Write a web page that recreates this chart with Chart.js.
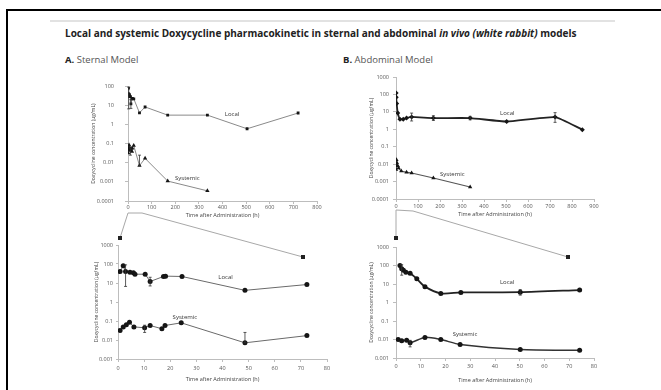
<!DOCTYPE html>
<html lang="en">
<head>
<meta charset="UTF-8">
<title>Doxycycline pharmacokinetics</title>
<script src="https://cdn.jsdelivr.net/npm/chart.js@4"></script>
<style>
  body { margin:0; width:661px; height:390px; background:#fff; position:relative; overflow:hidden; font-family:"Open Sans", sans-serif; }
  #frame { position:absolute; left:6px; top:9px; width:700px; height:400px; border-top:2px solid #000; border-left:2px solid #000; }
  #rule { position:absolute; left:50px; top:20px; width:565px; height:2px; background:#e2e2e2; }
  #title { position:absolute; left:65px; top:26px; font-size:10px; font-weight:700; color:#222; white-space:nowrap; }
  .panel { position:absolute; top:53px; font-size:9.5px; color:#555; white-space:nowrap; }
  .panel b { color:#222; }
  canvas { position:absolute; }
  svg { position:absolute; left:0; top:0; }
</style>
</head>
<body>
<div id="frame"></div>
<div id="rule"></div>
<div id="title">Local and systemic Doxycycline pharmacokinetic in sternal and abdominal <i>in vivo (white rabbit)</i> models</div>
<div class="panel" style="left:65px"><b>A.</b> Sternal Model</div>
<div class="panel" style="left:343px"><b>B.</b> Abdominal Model</div>

<svg width="661" height="390">
  <g stroke="#a8a8a8" stroke-width="1" fill="none">
    <polyline points="128,213 120,238"/>
    <polyline points="128,213 142,213 303,257"/>
    <polyline points="396,210 396,238"/>
    <polyline points="396,210 413,211 568,257"/>
  </g>
  <g fill="#222">
    <rect x="118" y="236" width="4" height="4"/>
    <rect x="301" y="255" width="4" height="4"/>
    <rect x="394" y="236" width="4" height="4"/>
    <rect x="566" y="255" width="4" height="4"/>
  </g>
</svg>

<canvas id="sternalTop" width="234" height="147" style="left:91px;top:72px"></canvas>
<canvas id="abdominalTop" width="233" height="149" style="left:369px;top:69px"></canvas>
<canvas id="sternalEarly" width="241" height="146" style="left:94px;top:237px"></canvas>
<canvas id="abdominalEarly" width="233" height="145" style="left:369px;top:239px"></canvas>

<script>
// sternal model, hours after administration / concentration (ug/mL)
const sternalLocalTime = [0.8, 2, 2.9, 4.6, 5.9, 6.5, 10.4, 12.3, 17.4, 18.2, 24.5, 48.6, 72.3, 168, 336, 504, 720];
const sternalLocal = [40, 80, 40, 37, 35, 29, 29, 12, 22, 23, 22, 4.1, 8.3, 3.1, 3.1, 0.6, 4.0];
const sternalSystemicTime = [0.8, 2, 3.2, 4.4, 6.1, 10.2, 12.3, 16.8, 18, 24.2, 48.6, 72.3, 168, 336];
const sternalSystemic = [0.032, 0.049, 0.064, 0.085, 0.049, 0.044, 0.058, 0.039, 0.058, 0.08, 0.0071, 0.017, 0.0011, 0.00034];
const sternalLocalErrTime = [2.9, 12.3];
const sternalLocalErrLow = [6.6, 7];
const sternalLocalErrHigh = [90, 20];
const sternalSystemicErrTime = [10.2, 48.6];
const sternalSystemicErrLow = [0.025, 0.0071];
const sternalSystemicErrHigh = [0.06, 0.025];

// abdominal model, whole follow-up
const abdominalLocalTime = [0.5, 1, 3, 8, 18, 33, 48, 71, 170, 337, 503, 723, 847];
const abdominalLocal = [120, 70, 30, 8.6, 3.8, 3.8, 4.4, 5.1, 4.4, 4.4, 2.8, 5.0, 0.95];
const abdominalSystemicTime = [0.5, 1, 2, 4, 8, 12, 24, 48, 71, 170, 337];
const abdominalSystemic = [0.005, 0.008, 0.018, 0.012, 0.008, 0.006, 0.004, 0.0034, 0.0031, 0.0016, 0.00049];
const abdominalLocalErrTime = [71, 170, 337, 723];
const abdominalLocalErrLow = [3, 3.2, 3.5, 2.5];
const abdominalLocalErrHigh = [8.5, 6, 5.5, 9];

// abdominal model, first 80 h
const abdominalEarlyLocalTime = [1.6, 2.3, 3, 4, 5.7, 8.4, 11.7, 18.1, 26.2, 50.2, 74.2];
const abdominalEarlyLocal = [100, 66, 55, 43, 38, 19, 7.2, 3.1, 3.5, 3.6, 4.7];
const abdominalEarlySystemicTime = [0.9, 2.3, 4.3, 5.7, 11.7, 18.1, 25.9, 50.2, 74.2];
const abdominalEarlySystemic = [0.01, 0.0085, 0.009, 0.0067, 0.013, 0.0099, 0.0054, 0.0029, 0.0026];
const abdominalEarlyLocalErrTime = [2.3, 50.2];
const abdominalEarlyLocalErrLow = [30, 2.5];
const abdominalEarlyLocalErrHigh = [110, 5.0];
const abdominalEarlySystemicErrTime = [5.7];
const abdominalEarlySystemicErrLow = [0.004];
const abdominalEarlySystemicErrHigh = [0.009];

const sternalTicks = [0.0001, 0.001, 0.01, 0.1, 1, 10, 100];
const abdominalTicks = [0.0001, 0.001, 0.01, 0.1, 1, 10, 100, 1000];
const earlyTicks = [0.001, 0.01, 0.1, 1, 10, 100, 1000];

Chart.defaults.font.family = '"Open Sans", sans-serif';

// "Local" / "Systemic" captions, placed in data units
const notes = {
  sternalTop: [['Local', 410, 3.6], ['Systemic', 199, 0.0015]],
  abdominalTop: [['Local', 473, 8.6], ['Systemic', 200, 0.0025]],
  sternalEarly: [['Local', 38.4, 20], ['Systemic', 20.9, 0.16]],
  abdominalEarly: [['Local', 42, 12.3], ['Systemic', 22.9, 0.019]]
};

const extras = {
  id: 'extras',
  afterDatasetsDraw(chart) {
    const ctx = chart.ctx, x = chart.scales.x, y = chart.scales.y;
    ctx.save();
    chart.data.datasets.forEach(ds => {
      if (!ds.errors) return;
      ctx.strokeStyle = '#333';
      ctx.lineWidth = 0.8;
      ds.errors.t.forEach((t, i) => {
        if (t > x.max) return;
        const px = x.getPixelForValue(t);
        const lo = y.getPixelForValue(ds.errors.low[i]);
        const hi = y.getPixelForValue(ds.errors.high[i]);
        ctx.beginPath();
        ctx.moveTo(px, lo); ctx.lineTo(px, hi);
        ctx.moveTo(px - 1.5, lo); ctx.lineTo(px + 1.5, lo);
        ctx.moveTo(px - 1.5, hi); ctx.lineTo(px + 1.5, hi);
        ctx.stroke();
      });
    });
    ctx.fillStyle = '#333';
    ctx.font = '6px "Open Sans"';
    ctx.textBaseline = 'middle';
    (notes[chart.canvas.id] || []).forEach(n => {
      ctx.fillText(n[0], x.getPixelForValue(n[1]), y.getPixelForValue(n[2]));
    });
    ctx.restore();
  }
};

function series(time, vals, look, err) {
  return {
    data: time.map((t, i) => ({ x: t, y: vals[i] })),
    borderColor: look.line,
    borderWidth: look.width,
    pointStyle: look.marker,
    pointRadius: look.size,
    pointBackgroundColor: '#151515',
    pointBorderColor: '#151515',
    pointBorderWidth: 0,
    errors: err
  };
}

function logChart(id, cfg) {
  const font = { size: 5.5 };
  new Chart(document.getElementById(id), {
    type: 'line',
    data: { datasets: cfg.datasets },
    options: {
      responsive: false,
      animation: false,
      elements: { line: { tension: cfg.tension } },
      layout: { padding: { top: 8, right: 8, left: 0, bottom: 0 } },
      plugins: { legend: { display: false }, tooltip: { enabled: false } },
      scales: {
        x: {
          type: 'linear', min: 0, max: cfg.xMax,
          afterFit: s => { s.height = cfg.xH; },
          ticks: { stepSize: cfg.xStep, includeBounds: false, font: font, color: '#555', padding: cfg.xPad, maxRotation: 0, autoSkip: false },
          grid: { drawOnChartArea: false, tickLength: 3, color: '#bdbdbd' },
          border: { color: '#bdbdbd' },
          title: { display: true, text: 'Time after Administration (h)', font: font, color: '#444', padding: 0 }
        },
        y: {
          type: 'logarithmic', min: cfg.yTicks[0], max: cfg.yTicks[cfg.yTicks.length - 1],
          afterFit: s => { s.width = cfg.yW; },
          afterBuildTicks: s => { s.ticks = cfg.yTicks.map(v => ({ value: v })); },
          ticks: { callback: v => String(v), font: font, color: '#555', padding: cfg.yPad, autoSkip: false },
          grid: { drawOnChartArea: false, tickLength: cfg.yTick, color: '#bdbdbd' },
          border: { color: '#bdbdbd' },
          title: { display: true, text: 'Doxycycline concentration (µg/mL)', font: { size: 5 }, color: '#444', padding: 0 }
        }
      }
    },
    plugins: [extras]
  });
}

const early = (time, vals) => [time.filter(t => t <= 80), vals.filter((v, i) => time[i] <= 80)];

logChart('sternalTop', {
  xMax: 800, xStep: 100, xH: 18, xPad: 0, yW: 37, yPad: 11, yTick: 3, tension: 0, yTicks: sternalTicks,
  datasets: [
    series(sternalLocalTime, sternalLocal, { line: '#8a8a8a', width: 1, marker: 'rect', size: 2 },
      { t: sternalLocalErrTime, low: sternalLocalErrLow, high: sternalLocalErrHigh }),
    series(sternalSystemicTime, sternalSystemic, { line: '#8a8a8a', width: 1, marker: 'triangle', size: 2.5 },
      { t: sternalSystemicErrTime, low: sternalSystemicErrLow, high: sternalSystemicErrHigh })
  ]
});

logChart('abdominalTop', {
  xMax: 900, xStep: 100, xH: 19, xPad: 1, yW: 27, yPad: 4, yTick: 3, tension: 0.15, yTicks: abdominalTicks,
  datasets: [
    series(abdominalLocalTime, abdominalLocal, { line: '#222', width: 1.8, marker: 'rectRot', size: 2.5 },
      { t: abdominalLocalErrTime, low: abdominalLocalErrLow, high: abdominalLocalErrHigh }),
    series(abdominalSystemicTime, abdominalSystemic, { line: '#555', width: 1.2, marker: 'triangle', size: 2.5 })
  ]
});

const sl = early(sternalLocalTime, sternalLocal);
const ss = early(sternalSystemicTime, sternalSystemic);
logChart('sternalEarly', {
  xMax: 80, xStep: 10, xH: 24, xPad: 3, yW: 24, yPad: 3, yTick: 2, tension: 0, yTicks: earlyTicks,
  datasets: [
    series(sl[0], sl[1], { line: '#6a6a6a', width: 1, marker: 'circle', size: 2.5 },
      { t: sternalLocalErrTime, low: sternalLocalErrLow, high: sternalLocalErrHigh }),
    series(ss[0], ss[1], { line: '#6a6a6a', width: 1, marker: 'circle', size: 2.5 },
      { t: sternalSystemicErrTime, low: sternalSystemicErrLow, high: sternalSystemicErrHigh })
  ]
});

logChart('abdominalEarly', {
  xMax: 80, xStep: 10, xH: 26, xPad: 2, yW: 27, yPad: 4, yTick: 3, tension: 0.25, yTicks: earlyTicks,
  datasets: [
    series(abdominalEarlyLocalTime, abdominalEarlyLocal, { line: '#222', width: 1.8, marker: 'circle', size: 2.5 },
      { t: abdominalEarlyLocalErrTime, low: abdominalEarlyLocalErrLow, high: abdominalEarlyLocalErrHigh }),
    series(abdominalEarlySystemicTime, abdominalEarlySystemic, { line: '#333', width: 1.5, marker: 'circle', size: 2.5 },
      { t: abdominalEarlySystemicErrTime, low: abdominalEarlySystemicErrLow, high: abdominalEarlySystemicErrHigh })
  ]
});
</script>
</body>
</html>
